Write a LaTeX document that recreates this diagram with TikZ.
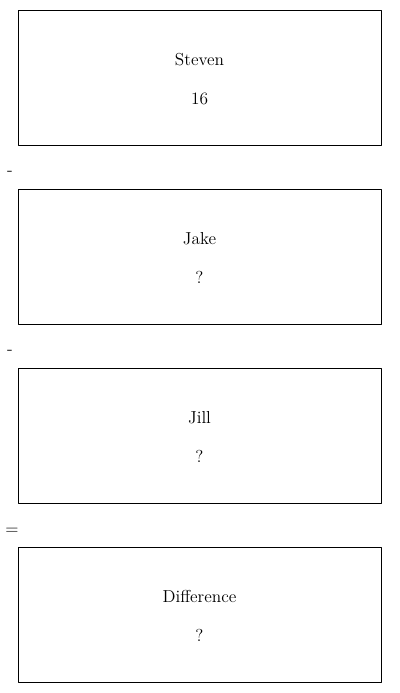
\documentclass[tikz,border=0pt]{standalone}
\usepackage{tikz}
\usetikzlibrary{positioning}

\begin{document}
\begin{tikzpicture}[x=0.75pt, y=-0.75pt, line join=round]

        % =========================
        % STYLES
        % =========================
        \tikzset{
            box/.style={draw, line width=0.75pt, minimum width=272.25pt,
                minimum height=101.25pt, inner sep=0pt},
            txt/.style={inner sep=0pt, align=center,
                font=\fontsize{13}{15}\selectfont},
            op/.style={inner sep=0pt, font=\fontsize{13}{15}\selectfont}
        }

        \useasboundingbox (0,0) rectangle (400,693);

        % =========================
        % CAC HOP
        % =========================
        \node[box] (steven) at (199.5,77.5)  {};
        \node[box] (jake)   at (199.5,256.5) {};
        \node[box] (jill)   at (199.5,435.5) {};
        \node[box] (diff)   at (199.5,614.5) {};

        % =========================
        % NOI DUNG
        % =========================
        \node[txt] (stevenT) at ([yshift=-1.1pt]steven.center) {Steven\\[14.25pt]16};
        \node[txt] (jakeT)   at ([yshift=-1.1pt]jake.center)   {Jake\\[14.25pt]?};
        \node[txt] (jillT)   at ([yshift=-1.1pt]jill.center)   {Jill\\[14.25pt]?};
        \node[txt] (diffT)   at ([yshift=-1.1pt]diff.center)   {Difference\\[14.25pt]?};

        % =========================
        % CAC PHEP TOAN
        % =========================
        \node[op] (minusA) at (10,173) {-};
        \node[op] (minusB) at (10,352) {-};
        \node[op] (equals) at (12,531) {=};

\end{tikzpicture}
\end{document}
